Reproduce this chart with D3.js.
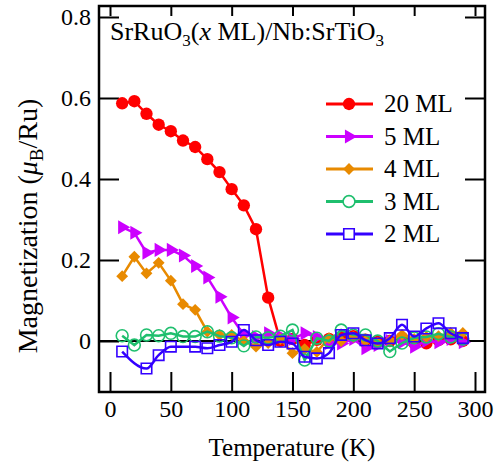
<!DOCTYPE html>
<html><head><meta charset="utf-8">
<script src="https://cdn.jsdelivr.net/npm/d3@7"></script>
<style>body{margin:0;background:#fff}svg{display:block}</style>
</head><body><svg id="c" width="502" height="468"></svg>
<script>
const temps = [10,20,30,40,50,60,70,80,90,100,110,120,130,140,150,160,170,180,190,200,210,220,230,240,250,260,270,280,290];
const ml20 = [0.587,0.592,0.561,0.534,0.518,0.495,0.479,0.449,0.417,0.375,0.335,0.276,0.107,0.0,0.005,-0.01,0.003,0.005,0.01,0.012,0.003,-0.002,0.0,0.008,-0.005,-0.006,0.002,0.004,0.0];
const ml5 = [0.281,0.267,0.218,0.225,0.225,0.211,0.185,0.157,0.109,0.058,0.015,0.01,0.019,0.012,0.005,0.019,0.01,-0.005,-0.006,0.005,-0.018,-0.01,0.0,-0.003,-0.014,0.0,-0.003,0.005,-0.003];
const ml4 = [0.160,0.208,0.167,0.193,0.149,0.091,0.077,0.023,0.015,0.015,0.0,-0.014,-0.005,0.005,-0.03,-0.02,-0.027,0.007,0.0,0.01,0.0,-0.004,0.0,0.015,0.005,0.01,0.012,0.02,0.02];
const ml3 = [0.013,-0.01,0.015,0.013,0.019,0.011,0.011,0.023,0.012,0.008,-0.012,0.01,0.008,0.012,0.027,-0.047,0.007,0.0,0.027,0.015,0.015,0.0,-0.026,-0.005,0.008,0.01,0.018,0.01,0.005];
const temps2 = [10,30,40,50,70,80,90,100,110,120,130,140,150,160,170,180,190,200,210,220,230,240,250,260,270,280,290];
const ml2 = [-0.026,-0.068,-0.035,-0.014,-0.014,-0.018,-0.01,-0.002,0.027,0.002,-0.01,-0.002,-0.006,-0.039,-0.043,-0.03,0.015,0.019,0.002,-0.006,0.007,0.04,0.011,0.031,0.044,0.019,0.007];
const xTicks = [0,50,100,150,200,250,300];
const yTicks = [0,0.2,0.4,0.6,0.8];
const yTickLabels = ["0","0.2","0.4","0.6","0.8"];
const seriesNames = ["20 ML","5 ML","4 ML","3 ML","2 ML"];

const FONT = '"Liberation Serif", Tinos, "Times New Roman", serif';
const svg = d3.select("#c").attr("font-family",FONT);
const L=99, R=485, T=6, B=392;
const x = d3.scaleLinear().domain([0,300]).range([110,475]);
const y = d3.scaleLinear().domain([0,0.8]).range([341,17]);

const series = [
  {name:seriesNames[0], t:temps, v:ml20, color:"#ff0000", sym:d3.symbolCircle, size:120, fill:true, rot:0},
  {name:seriesNames[1], t:temps, v:ml5, color:"#cc00ff", sym:d3.symbolTriangle, size:85, fill:true, rot:90},
  {name:seriesNames[2], t:temps, v:ml4, color:"#e88a00", sym:d3.symbolSquare, size:70, fill:true, rot:45},
  {name:seriesNames[3], t:temps, v:ml3, color:"#1fbf6e", sym:d3.symbolCircle, size:110, fill:false, rot:0},
  {name:seriesNames[4], t:temps2, v:ml2, color:"#3300ff", sym:d3.symbolSquare, size:110, fill:false, rot:0, smooth:true}
];

svg.append("line").attr("x1",L).attr("x2",R).attr("y1",y(0)).attr("y2",y(0)).attr("stroke","#000").attr("stroke-width",2);

function styleAxis(g){ g.attr("font-family",FONT).attr("font-size",24); g.select(".domain").remove(); g.selectAll(".tick line").attr("stroke","#000").attr("stroke-width",2); g.selectAll("text").attr("fill","#000"); }
svg.append("g").attr("transform",`translate(0,${B})`).call(d3.axisBottom(x).tickValues(xTicks).tickSize(-20).tickPadding(8)).call(styleAxis);
svg.append("g").attr("transform",`translate(0,${T})`).call(d3.axisTop(x).tickValues(xTicks).tickSize(-10).tickFormat("")).call(styleAxis);
svg.append("g").attr("transform",`translate(${L},0)`).call(d3.axisLeft(y).tickValues(yTicks).tickSize(-20).tickPadding(8).tickFormat((d,i)=>yTickLabels[i])).call(styleAxis);
svg.append("g").attr("transform",`translate(${R},0)`).call(d3.axisRight(y).tickValues(yTicks.slice(1)).tickSize(-20).tickFormat("")).call(styleAxis);

series.forEach(s=>{
  const pts = s.t.map((t,i)=>[t,s.v[i]]);
  const line = d3.line().x(d=>x(d[0])).y(d=>y(d[1])).curve(s.smooth?d3.curveMonotoneX:d3.curveLinear);
  const g = svg.append("g");
  g.append("path").attr("d",line(pts)).attr("fill","none").attr("stroke",s.color).attr("stroke-width",2.5);
  g.selectAll("path.m").data(pts).join("path").attr("class","m")
    .attr("d",d3.symbol().type(s.sym).size(s.size))
    .attr("transform",d=>`translate(${x(d[0])},${y(d[1])}) rotate(${s.rot})`)
    .attr("fill",s.fill?s.color:"none").attr("stroke",s.color).attr("stroke-width",s.fill?0:1.6);
});

svg.append("rect").attr("x",L).attr("y",T).attr("width",R-L).attr("height",B-T).attr("fill","none").attr("stroke","#000").attr("stroke-width",2.5);

const lg = svg.append("g");
series.forEach((s,i)=>{
  const cy = 104 + i*32.5;
  lg.append("line").attr("x1",326).attr("x2",373).attr("y1",cy).attr("y2",cy).attr("stroke",s.color).attr("stroke-width",3);
  lg.append("path").attr("d",d3.symbol().type(s.sym).size(s.size)).attr("transform",`translate(349,${cy}) rotate(${s.rot})`)
    .attr("fill",s.fill?s.color:"#fff").attr("stroke",s.color).attr("stroke-width",s.fill?0:1.6);
  lg.append("text").attr("x",384).attr("y",cy+8).attr("font-size",25).text(s.name);
});

const tt = svg.append("text").attr("x",110).attr("y",40).attr("font-size",26);
tt.append("tspan").text("SrRuO");
tt.append("tspan").attr("dy",6).attr("font-size",17).text("3");
tt.append("tspan").attr("dy",-6).text("(");
tt.append("tspan").attr("font-style","italic").text("x");
tt.append("tspan").text(" ML)/Nb:SrTiO");
tt.append("tspan").attr("dy",6).attr("font-size",17).text("3");

svg.append("text").attr("x",292).attr("y",456).attr("text-anchor","middle").attr("font-size",25).text("Temperature (K)");
const yl = svg.append("text").attr("transform","translate(37,226) rotate(-90)").attr("text-anchor","middle").attr("font-size",28);
yl.append("tspan").text("Magnetization (");
yl.append("tspan").attr("font-style","italic").text("\u03bc");
yl.append("tspan").attr("dy",6).attr("font-size",19).text("B");
yl.append("tspan").attr("dy",-6).text("/Ru)");
</script></body></html>
